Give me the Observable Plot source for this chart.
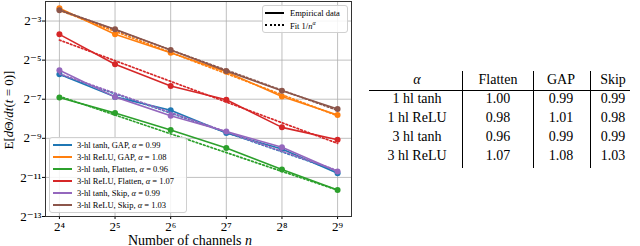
<!DOCTYPE html>
<html>
<head>
<meta charset="utf-8">
<script src="https://cdn.jsdelivr.net/npm/d3@7"></script>
<script src="https://cdn.jsdelivr.net/npm/@observablehq/plot@0.6"></script>
<style>
  html, body { margin: 0; padding: 0; background: #fff; }
  #wrap { position: relative; width: 640px; height: 246px; overflow: hidden; font-family: "Liberation Serif", "Times New Roman", "DejaVu Serif", serif; color: #000; }
  #wrap svg { position: absolute; left: 0; top: 0; }
  .abs { position: absolute; white-space: nowrap; }
  .c { transform: translate(-50%, -50%); }
  .leg { position: absolute; background: rgba(255,255,255,0.85); border: 1px solid #d0d0d0; border-radius: 3px; }
  .row { position: absolute; left: 0; display: flex; align-items: center; white-space: nowrap; }
  .sw { display: inline-block; }
</style>
</head>
<body>
<div id="wrap"></div>
<script>
// ---- Data (values are log2 exponents) ----
const channels = [16, 32, 64, 128, 256, 512];
const seriesNames = ["3-hl tanh, GAP", "3-hl ReLU, GAP", "3-hl tanh, Flatten", "3-hl ReLU, Flatten", "3-hl tanh, Skip", "3-hl ReLU, Skip"];
const seriesAlpha = [0.99, 1.08, 0.96, 1.07, 0.99, 1.03];
const seriesColors = ["#1f77b4", "#ff7f0e", "#2ca02c", "#d62728", "#9467bd", "#8c564b"];
const tanhGapLog2     = [-5.72, -6.88, -7.56, -8.73, -9.55, -10.79];
const reluGapLog2     = [-2.35, -3.68, -4.62, -5.60, -6.86, -7.81];
const tanhFlattenLog2 = [-6.91, -7.71, -8.58, -9.50, -10.60, -11.64];
const reluFlattenLog2 = [-3.68, -5.21, -6.32, -7.03, -8.44, -9.07];
const tanhSkipLog2    = [-5.52, -6.88, -7.85, -8.65, -9.46, -10.70];
const reluSkipLog2    = [-2.45, -3.42, -4.48, -5.55, -6.57, -7.50];
// fitted 1/n^alpha lines: value at n = 2^4 and at n = 2^9 (log2)
const fitStartLog2 = [-5.73, -2.45, -6.85, -3.97, -5.70, -2.42];
const fitEndLog2   = [-10.68, -7.85, -11.65, -9.26, -10.65, -7.57];
const xTicks = [16, 32, 64, 128, 256, 512];
const yTicks = [2**-13, 2**-11, 2**-9, 2**-7, 2**-5, 2**-3];
// table
const tableRows = ["1 hl tanh", "1 hl ReLU", "3 hl tanh", "3 hl ReLU"];
const tableCols = ["Flatten", "GAP", "Skip"];
const flattenAlpha = [1.00, 0.98, 0.96, 1.07];
const gapAlpha     = [0.99, 1.01, 0.99, 1.08];
const skipAlpha    = [0.99, 0.98, 0.99, 1.03];

// ---- Build tidy tables ----
const seriesLog2 = [tanhGapLog2, reluGapLog2, tanhFlattenLog2, reluFlattenLog2, tanhSkipLog2, reluSkipLog2];
const pts = [];
seriesLog2.forEach((vals, s) => vals.forEach((v, i) => pts.push({s, n: channels[i], v: 2 ** v})));
const fits = [];
seriesNames.forEach((_, s) => {
  fits.push({s, n: channels[0], v: 2 ** fitStartLog2[s]});
  fits.push({s, n: channels[channels.length - 1], v: 2 ** fitEndLog2[s]});
});

const sup = {"0":"⁰","1":"¹","2":"²","3":"³","4":"⁴","5":"⁵","6":"⁶","7":"⁷","8":"⁸","9":"⁹","-":"⁻"};
const pow2 = d => "2" + String(Math.round(Math.log2(d))).split("").map(c => sup[c]).join("");

const FONT = "'Liberation Serif', 'Times New Roman', 'DejaVu Serif', serif";
const marks = [
  Plot.gridX(xTicks, {stroke: "#b0b0b0", strokeOpacity: 1, strokeWidth: 0.8}),
  Plot.gridY(yTicks, {stroke: "#b0b0b0", strokeOpacity: 1, strokeWidth: 0.8}),
  Plot.axisX(xTicks, {tickFormat: pow2, tickSize: 3, tickPadding: 2, label: null, fontSize: 13}),
  Plot.axisY(yTicks, {tickFormat: pow2, tickSize: 3, tickPadding: 1, label: null, fontSize: 13})
];
seriesNames.forEach((_, s) => {
  const d = pts.filter(p => p.s === s);
  const f = fits.filter(p => p.s === s);
  marks.push(Plot.line(d, {x: "n", y: "v", stroke: seriesColors[s], strokeWidth: 1.6}));
  marks.push(Plot.dot(d, {x: "n", y: "v", fill: seriesColors[s], r: 3}));
  marks.push(Plot.line(f, {x: "n", y: "v", stroke: seriesColors[s], strokeWidth: 1.7, strokeDasharray: "1.7,2.2"}));
});
marks.push(Plot.frame({stroke: "#333", strokeWidth: 1}));

const chart = Plot.plot({
  width: 352, height: 246,
  marginLeft: 45, marginRight: 1, marginTop: 1, marginBottom: 30,
  style: {fontFamily: FONT, fontSize: "13px", background: "transparent", overflow: "visible"},
  x: {type: "log", base: 2, domain: [2 ** 3.75, 2 ** 9.25]},
  y: {type: "log", base: 2, domain: [2 ** -13, 2 ** -2]},
  marks
});
const wrap = document.getElementById("wrap");
wrap.appendChild(chart);

// axis titles
const svg = d3.select(chart);
const yl = svg.append("text").attr("transform", "translate(8,110) rotate(-90)")
  .attr("text-anchor", "middle").attr("dominant-baseline", "central")
  .attr("font-size", 13).attr("fill", "#000").attr("font-family", FONT);
yl.append("tspan").text("E[");
yl.append("tspan").attr("font-style", "italic").text("d");
yl.append("tspan").text("Θ/");
yl.append("tspan").attr("font-style", "italic").text("dt");
yl.append("tspan").text("(");
yl.append("tspan").attr("font-style", "italic").text("t");
yl.append("tspan").text(" = 0)]");
const xl = svg.append("text").attr("x", 190).attr("y", 240)
  .attr("text-anchor", "middle").attr("dominant-baseline", "central")
  .attr("font-size", 14).attr("fill", "#000").attr("font-family", FONT);
xl.append("tspan").text("Number of channels ");
xl.append("tspan").attr("font-style", "italic").text("n");

// ---- in-plot legend (series) ----
const leg = document.createElement("div");
leg.className = "leg";
Object.assign(leg.style, {left: "49px", top: "137px", width: "136px", height: "74px"});
seriesNames.forEach((name, s) => {
  const r = document.createElement("div");
  r.className = "row";
  Object.assign(r.style, {top: (1 + s * 12) + "px", height: "12px", fontSize: "8.5px"});
  r.innerHTML = `<span class="sw" style="margin-left:3px;width:19px;border-top:2.5px solid ${seriesColors[s]}"></span>` +
    `<span style="margin-left:5px">${name}, <i>α</i> = ${seriesAlpha[s].toFixed(2)}</span>`;
  leg.appendChild(r);
});
wrap.appendChild(leg);

// ---- style legend (top right) ----
const leg2 = document.createElement("div");
leg2.className = "leg";
Object.assign(leg2.style, {left: "262px", top: "5px", width: "84px", height: "26px"});
[["solid", "Empirical data"], ["dotted", "Fit 1/<i>n</i><sup style='font-size:6px'><i>α</i></sup>"]].forEach(([st, txt], i) => {
  const r = document.createElement("div");
  r.className = "row";
  Object.assign(r.style, {top: (1 + i * 12) + "px", height: "12px", fontSize: "8.5px"});
  r.innerHTML = `<span class="sw" style="margin-left:2px;width:19px;border-top:2px ${st} #000"></span>` +
    `<span style="margin-left:6px">${txt}</span>`;
  leg2.appendChild(r);
});
wrap.appendChild(leg2);

// ---- table ----
function txt(html, cx, cy, size) {
  const d = document.createElement("div");
  d.className = "abs c";
  Object.assign(d.style, {left: cx + "px", top: cy + "px", fontSize: size + "px"});
  d.innerHTML = html;
  wrap.appendChild(d);
}
function box(l, t, w, h) {
  const d = document.createElement("div");
  d.className = "abs";
  Object.assign(d.style, {left: l + "px", top: t + "px", width: w + "px", height: h + "px", background: "#000"});
  wrap.appendChild(d);
}
const colX = [417, 498, 561, 613];
const headY = 80, rowY = [99, 118, 137, 156];
txt("<i>α</i>", colX[0], headY, 14);
tableCols.forEach((c, i) => txt(c, colX[i + 1], headY, 14));
box(369, 90, 261, 1);
[462, 533, 590].forEach(x => box(x, 71, 1, 97));
const colVals = [flattenAlpha, gapAlpha, skipAlpha];
tableRows.forEach((r, i) => {
  txt(r, colX[0], rowY[i], 14);
  colVals.forEach((vals, j) => txt(vals[i].toFixed(2), colX[j + 1], rowY[i], 14));
});
</script>
</body>
</html>
